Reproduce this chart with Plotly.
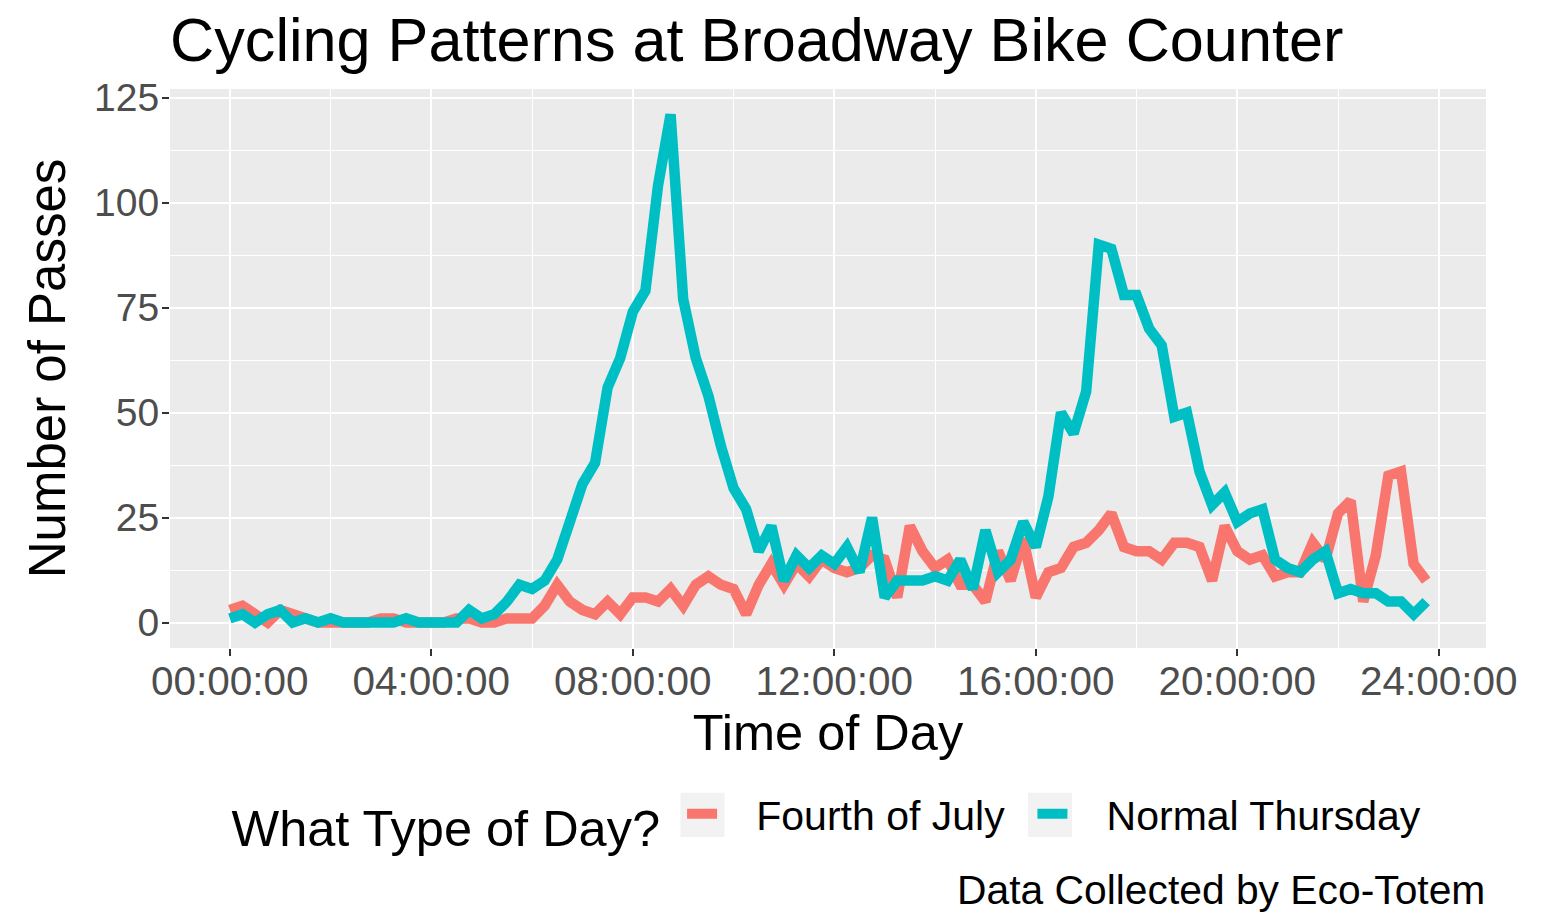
import plotly.graph_objects as go

# Time of day in hours (15-minute intervals)
hours = [i * 0.25 for i in range(96)]

fourth_of_july = [3, 4, 2, 0, 3, 2, 1, 0, 0, 0,
                  0, 0, 1, 1, 0, 0, 0, 0, 1, 1,
                  0, 0, 1, 1, 1, 4, 9, 5, 3, 2,
                  5, 2, 6, 6, 5, 8, 4, 9, 11, 9,
                  8, 2, 9, 14, 9, 14, 11, 15, 13, 12,
                  13, 16, 15, 6, 23, 17, 13, 15, 9, 9,
                  5, 17, 10, 20, 6, 12, 13, 18, 19, 22,
                  26, 18, 17, 17, 15, 19, 19, 18, 10, 23,
                  17, 15, 16, 11, 12, 12, 19, 15, 26, 29,
                  5, 16, 35, 36, 14, 10]

normal_thursday = [1, 2, 0, 2, 3, 0, 1, 0, 1, 0,
                   0, 0, 0, 0, 1, 0, 0, 0, 0, 3,
                   1, 2, 5, 9, 8, 10, 15, 24, 33, 38,
                   56, 63, 74, 79, 104, 121, 77, 63, 54, 42,
                   32, 27, 17, 23, 10, 16, 13, 16, 14, 18,
                   12, 25, 6, 10, 10, 10, 11, 10, 15, 8,
                   22, 12, 15, 24, 18, 30, 50, 45, 55, 90,
                   89, 78, 78, 70, 66, 49, 50, 36, 28, 31,
                   24, 26, 27, 15, 13, 12, 15, 17, 7, 8,
                   7, 7, 5, 5, 2, 5]

series_names = ["Fourth of July", "Normal Thursday"]
series_colors = ["#F8766D", "#00BFC4"]

x_tick_vals = [0, 4, 8, 12, 16, 20, 24]
x_tick_text = ["00:00:00", "04:00:00", "08:00:00", "12:00:00",
               "16:00:00", "20:00:00", "24:00:00"]
x_minor_vals = [2, 6, 10, 14, 18, 22]
y_tick_vals = [0, 25, 50, 75, 100, 125]
y_minor_vals = [12.5, 37.5, 62.5, 87.5, 112.5]

FONT = "Liberation Sans, Arial, sans-serif"
W, H = 1535, 905  # page has an 8px body margin
NB = "\u00a0"

fig = go.Figure()
for name, vals, color, tail in zip(series_names,
                                   [fourth_of_july, normal_thursday],
                                   series_colors, [NB * 2, ""]):
    fig.add_trace(go.Scatter(x=hours, y=vals, mode="lines",
                             name=NB * 3 + name + tail,
                             hovertemplate=name + ": %{y}<extra></extra>",
                             line=dict(color=color, width=10.5)))

# light grey legend-key backgrounds (ggplot2 style), in paper coordinates
key_boxes = [(0.3879, 0.4214), (0.6520, 0.6854)]
key_y = (-0.338, -0.259)
shapes = [dict(type="rect", xref="paper", yref="paper",
               x0=a, x1=b, y0=key_y[0], y1=key_y[1],
               fillcolor="#F2F2F2", line=dict(width=0), layer="below")
          for a, b in key_boxes]

fig.update_layout(
    width=W, height=H,
    margin=dict(l=162, r=57, t=81, b=265),
    paper_bgcolor="white",
    plot_bgcolor="#EBEBEB",
    font=dict(family=FONT, color="black"),
    title=dict(text="Cycling Patterns at Broadway Bike Counter",
               font=dict(size=61.2, color="black", family=FONT),
               x=162 / W, xanchor="left", xref="container",
               y=1 - 32 / H, yanchor="middle", yref="container"),
    showlegend=True,
    legend=dict(orientation="h", x=0.5, xanchor="center",
                y=-0.305, yanchor="middle",
                title=dict(text="What Type of Day?" + NB, side="left",
                           font=dict(size=50.5, color="black")),
                font=dict(size=41, color="black"),
                bgcolor="rgba(0,0,0,0)"),
    shapes=shapes,
    annotations=[dict(text="Data Collected by Eco-Totem",
                      xref="paper", yref="paper", x=1.001, y=-0.433,
                      xanchor="right", yanchor="middle", showarrow=False,
                      font=dict(size=40.8, color="black", family=FONT))],
)

fig.update_xaxes(
    range=[-1.1875, 24.9375],
    tickmode="array", tickvals=x_tick_vals, ticktext=x_tick_text,
    ticks="outside", ticklen=7, tickwidth=2, tickcolor="#333333",
    tickfont=dict(size=40.5, color="#4D4D4D"),
    ticklabelstandoff=-10,
    showgrid=True, gridcolor="white", gridwidth=2.2,
    minor=dict(tickmode="array", tickvals=x_minor_vals, showgrid=True,
               gridcolor="white", gridwidth=1.1, ticks=""),
    zeroline=False, showline=False,
    title=dict(text="Time of Day", font=dict(size=50.5, color="black"),
               standoff=3),
)
fig.update_yaxes(
    range=[-6.05, 127.05],
    tickmode="array", tickvals=y_tick_vals,
    ticks="outside", ticklen=7, tickwidth=2, tickcolor="#333333",
    tickfont=dict(size=39, color="#4D4D4D"),
    ticklabelstandoff=-5,
    showgrid=True, gridcolor="white", gridwidth=2.2,
    minor=dict(tickmode="array", tickvals=y_minor_vals, showgrid=True,
               gridcolor="white", gridwidth=1.1, ticks=""),
    zeroline=False, showline=False,
    title=dict(text="Number of Passes", font=dict(size=51, color="black"),
               standoff=12),
)

fig.write_html("out.html")
